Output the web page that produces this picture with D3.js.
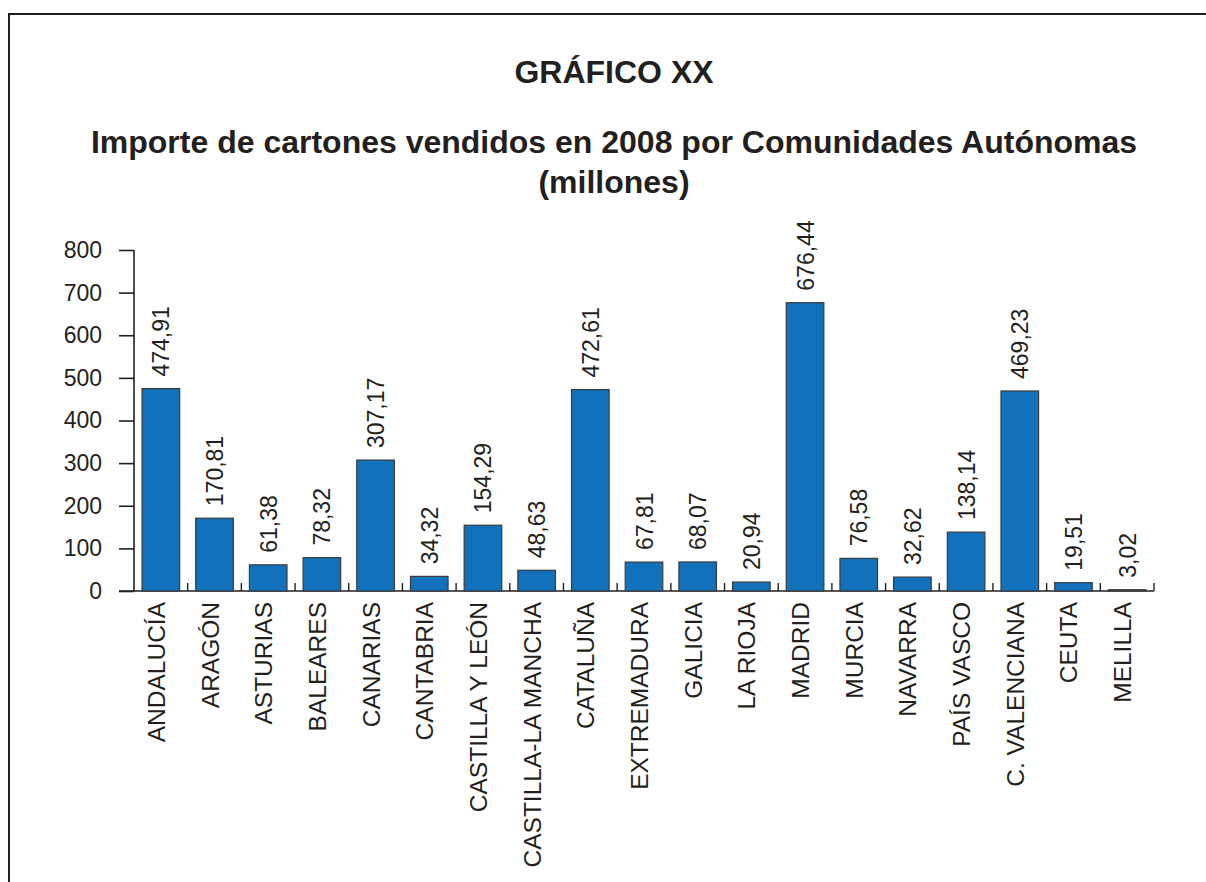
<!DOCTYPE html>
<html>
<head>
<meta charset="utf-8">
<script src="https://cdn.jsdelivr.net/npm/d3@7"></script>
<style>
  body { margin: 0; background: #fff; }
  svg { display: block; }
  text { font-family: "Liberation Sans", Arial, Helvetica, sans-serif; fill: #231f20; }
</style>
</head>
<body>
<svg id="chart" width="1206" height="882"></svg>
<script>
// datos: importe de cartones vendidos 2008 (millones)
var comunidades = ["ANDALUCÍA", "ARAGÓN", "ASTURIAS", "BALEARES", "CANARIAS", "CANTABRIA",
  "CASTILLA Y LEÓN", "CASTILLA-LA MANCHA", "CATALUÑA", "EXTREMADURA", "GALICIA", "LA RIOJA",
  "MADRID", "MURCIA", "NAVARRA", "PAÍS VASCO", "C. VALENCIANA", "CEUTA", "MELILLA"];
var importes = [474.91, 170.81, 61.38, 78.32, 307.17, 34.32, 154.29, 48.63, 472.61, 67.81,
  68.07, 20.94, 676.44, 76.58, 32.62, 138.14, 469.23, 19.51, 3.02];
var yTicks = [0, 100, 200, 300, 400, 500, 600, 700, 800];

var titulo = "GRÁFICO XX";
var subtitulo = ["Importe de cartones vendidos en 2008 por Comunidades Autónomas", "(millones)"];

var svg = d3.select("#chart");
var ink = "#231f20";
var fmt = function(v) { return v.toFixed(2).replace(".", ","); };

// marco
svg.append("path")
  .attr("d", "M9,882 V14 H1206")
  .attr("fill", "none")
  .attr("stroke", ink)
  .attr("stroke-width", 2);

// titulos
svg.append("text")
  .attr("x", 614).attr("y", 83)
  .attr("text-anchor", "middle")
  .style("font-size", "32px").style("font-weight", "bold")
  .text(titulo);

svg.selectAll(".sub").data(subtitulo).enter().append("text")
  .attr("class", "sub")
  .attr("x", 614)
  .attr("y", function(d, i) { return 153 + i * 40; })
  .attr("text-anchor", "middle")
  .style("font-size", "32px").style("font-weight", "bold")
  .text(function(d) { return d; });

var x = d3.scaleBand()
  .domain(comunidades)
  .range([134, 1154])
  .paddingInner(0.3)
  .paddingOuter(0.15);

var y = d3.scaleLinear()
  .domain([0, 800])
  .range([591, 250]);

// eje y
var yAxis = svg.append("g")
  .attr("transform", "translate(134,0)")
  .call(d3.axisLeft(y).tickValues(yTicks).tickSize(15).tickPadding(17).tickFormat(d3.format("d")));
yAxis.select(".domain").attr("stroke", ink).attr("stroke-width", 1.6).attr("d", "M0,250 V591");
yAxis.selectAll(".tick line").attr("stroke", ink).attr("stroke-width", 1.6);
yAxis.selectAll(".tick text")
  .style("font-size", "23px")
  .attr("fill", ink)
  .style("font-family", "'Liberation Sans', Arial, sans-serif");

// eje x
var step = x.step();
svg.append("line")
  .attr("x1", 119).attr("x2", x.range()[1])
  .attr("y1", y(0)).attr("y2", y(0))
  .attr("stroke", ink).attr("stroke-width", 1.6);

svg.selectAll(".xtick").data(comunidades).enter().append("line")
  .attr("class", "xtick")
  .attr("x1", function(d) { return x(d) + x.bandwidth() + step * x.paddingOuter(); })
  .attr("x2", function(d) { return x(d) + x.bandwidth() + step * x.paddingOuter(); })
  .attr("y1", y(0)).attr("y2", y(0) - 8)
  .attr("stroke", ink).attr("stroke-width", 1.4);

// barras
svg.selectAll(".bar").data(importes).enter().append("rect")
  .attr("class", "bar")
  .attr("x", function(d, i) { return x(comunidades[i]); })
  .attr("y", function(d) { return y(d); })
  .attr("width", x.bandwidth())
  .attr("height", function(d) { return y(0) - y(d); })
  .attr("fill", "#1172bb")
  .attr("stroke", "#3a3a3a")
  .attr("stroke-width", 1.2);

// etiquetas de valor
svg.selectAll(".val").data(importes).enter().append("text")
  .attr("class", "val")
  .attr("transform", function(d, i) {
    var cx = x(comunidades[i]) + x.bandwidth() / 2;
    return "translate(" + (cx + 8.5) + "," + (y(d) - 12) + ") rotate(-90)";
  })
  .style("font-size", "23px")
  .text(fmt);

// nombres de comunidades
svg.selectAll(".cat").data(comunidades).enter().append("text")
  .attr("class", "cat")
  .attr("transform", function(d) {
    var cx = x(d) + x.bandwidth() / 2;
    return "translate(" + (cx + 4) + ",602) rotate(-90)";
  })
  .attr("text-anchor", "end")
  .style("font-size", "24.5px")
  .text(function(d) { return d; });
</script>
</body>
</html>
